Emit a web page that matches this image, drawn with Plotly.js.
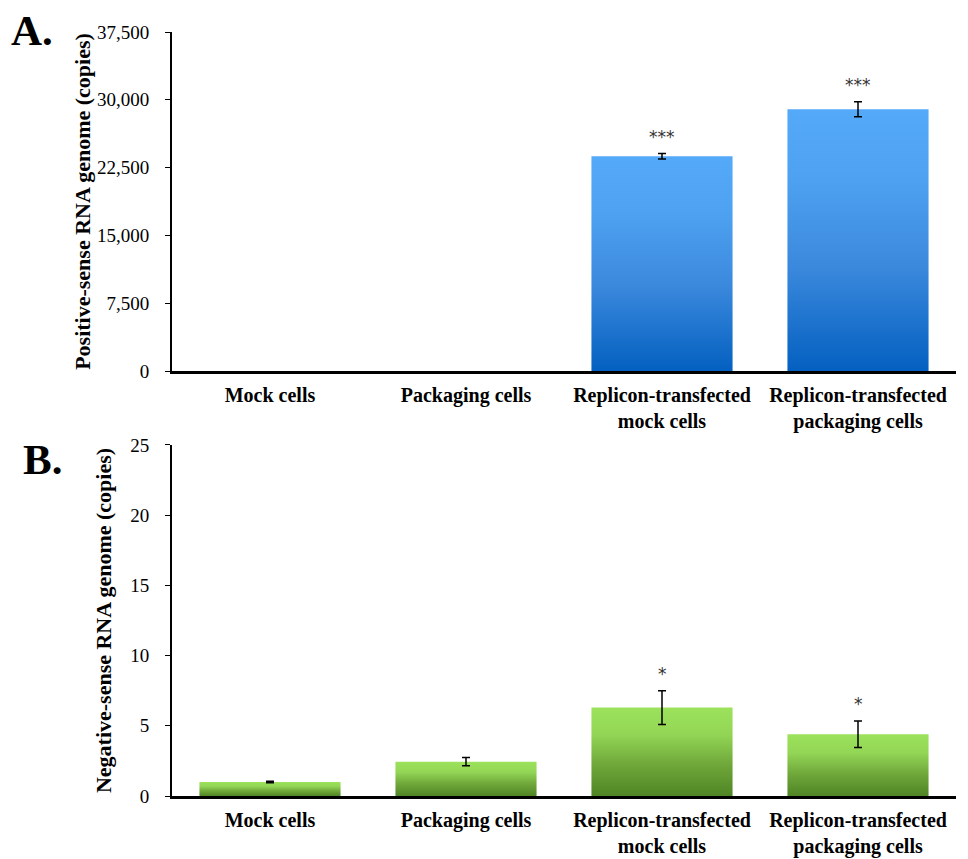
<!DOCTYPE html>
<html>
<head>
<meta charset="utf-8">
<script src="https://cdn.plot.ly/plotly-3.0.1.min.js"></script>
<style>
  html, body { margin: 0; padding: 0; background: #fff; }
  #chart { width: 968px; height: 859px; }
</style>
</head>
<body>
<div id="chart"></div>
<script>
// ---- data ----
var categories = ['Mock cells', 'Packaging cells', 'Replicon-transfected<br>mock cells', 'Replicon-transfected<br>packaging cells'];
var posValues = [0, 0, 23750, 28950];
var posErrors = [0, 0, 300, 830];
var posSignif = ['', '', '***', '***'];
var negValues = [1.0, 2.45, 6.3, 4.4];
var negErrors = [0.05, 0.3, 1.2, 0.95];
var negSignif = ['', '', '*', '*'];
var posTicks = [0, 7500, 15000, 22500, 30000, 37500];
var negTicks = [0, 5, 10, 15, 20, 25];

var serif = 'Liberation Serif, Times New Roman, serif';

// bars without a measurable error get no error bar
function errArray(errs) { return errs.map(function (e) { return e > 0 ? e : NaN; }); }

var traces = [
  {
    type: 'bar', x: categories, y: posValues, xaxis: 'x', yaxis: 'y',
    marker: { color: '#3a8ee6', line: { width: 0 } },
    error_y: { type: 'data', array: errArray(posErrors), visible: true, color: '#000', thickness: 1.5, width: 4 },
    hoverinfo: 'none'
  },
  {
    type: 'bar', x: categories, y: negValues, xaxis: 'x2', yaxis: 'y2',
    marker: { color: '#7cc144', line: { width: 0 } },
    error_y: { type: 'data', array: errArray(negErrors), visible: true, color: '#000', thickness: 1.5, width: 4 },
    hoverinfo: 'none'
  }
];

var annotations = [];
function addStars(vals, errs, sig, xr, yr) {
  for (var i = 0; i < vals.length; i++) {
    if (!sig[i]) continue;
    annotations.push({
      x: categories[i], y: vals[i] + errs[i], xref: xr, yref: yr,
      text: sig[i], showarrow: false, yanchor: 'bottom', yshift: 5,
      font: { family: 'DejaVu Sans, sans-serif', size: 17, color: '#333' }
    });
  }
}
addStars(posValues, posErrors, posSignif, 'x', 'y');
addStars(negValues, negErrors, negSignif, 'x2', 'y2');

annotations.push({ x: 0, y: 1, xref: 'paper', yref: 'paper', text: '<b>A.</b>', showarrow: false,
  xanchor: 'left', yanchor: 'top', xshift: -163, yshift: -5, font: { family: serif, size: 43, color: '#000' } });
annotations.push({ x: 0, y: 1 - 440 / 859, xref: 'paper', yref: 'paper', text: '<b>B.</b>', showarrow: false,
  xanchor: 'left', yanchor: 'top', xshift: -151, yshift: 6, font: { family: serif, size: 43, color: '#000' } });

var xaxisCommon = {
  type: 'category', showline: true, linecolor: '#000', linewidth: 2.5,
  ticks: '', showgrid: false, zeroline: false, ticklabelstandoff: 4,
  tickfont: { family: serif, size: 20, color: '#000', weight: 'bold' }
};
var yaxisCommon = {
  showline: true, linecolor: '#000', linewidth: 2, ticks: 'outside', ticklen: 5,
  tickcolor: '#000', tickwidth: 1, showgrid: false, zeroline: false, ticklabelstandoff: 12,
  tickfont: { family: serif, size: 19, color: '#000' }
};

var layout = {
  width: 968, height: 859,
  margin: { l: 172, r: 12, t: 0, b: 0 },
  paper_bgcolor: '#fff', plot_bgcolor: '#fff',
  showlegend: false, bargap: 0.28,
  xaxis: Object.assign({}, xaxisCommon, { domain: [0, 1], anchor: 'y' }),
  yaxis: Object.assign({}, yaxisCommon, {
    domain: [0.5681, 0.9627], anchor: 'x', range: [0, 37500],
    tickvals: posTicks, tickformat: ',d',
    title: { text: '<b>Positive-sense RNA genome (copies)</b>', standoff: 0,
      font: { family: serif, size: 22, color: '#000' } }
  }),
  xaxis2: Object.assign({}, xaxisCommon, { domain: [0, 1], anchor: 'y2' }),
  yaxis2: Object.assign({}, yaxisCommon, {
    domain: [0.0733, 0.482], anchor: 'x2', range: [0, 25],
    tickvals: negTicks,
    title: { text: '<b>Negative-sense RNA genome (copies)</b>', standoff: 12,
      font: { family: serif, size: 22, color: '#000' } }
  }),
  annotations: annotations
};

Plotly.newPlot('chart', traces, layout, { displayModeBar: false, staticPlot: true }).then(function (gd) {
  var svg = gd.querySelector('svg.main-svg');
  var ns = 'http://www.w3.org/2000/svg';
  var defs = svg.querySelector('defs') || svg.insertBefore(document.createElementNS(ns, 'defs'), svg.firstChild);
  function grad(id, stops) {
    var g = document.createElementNS(ns, 'linearGradient');
    g.setAttribute('id', id);
    g.setAttribute('x1', '0'); g.setAttribute('y1', '0');
    g.setAttribute('x2', '0'); g.setAttribute('y2', '1');
    stops.forEach(function (s) {
      var st = document.createElementNS(ns, 'stop');
      st.setAttribute('offset', s[0]);
      st.setAttribute('stop-color', s[1]);
      g.appendChild(st);
    });
    defs.appendChild(g);
  }
  grad('gradBlue', [['0', '#55a9f9'], ['0.25', '#4fa2f2'], ['0.6', '#3b89dd'], ['1', '#0460c0']]);
  grad('gradGreen', [['0', '#9ce25b'], ['0.3', '#93d656'], ['0.65', '#6fa73a'], ['1', '#508524']]);
  var groups = gd.querySelectorAll('g.trace.bars');
  var ids = ['gradBlue', 'gradGreen'];
  groups.forEach(function (g, k) {
    g.querySelectorAll('.point path').forEach(function (p) {
      p.style.fill = 'url(#' + ids[k] + ')';
    });
  });
});
</script>
</body>
</html>
